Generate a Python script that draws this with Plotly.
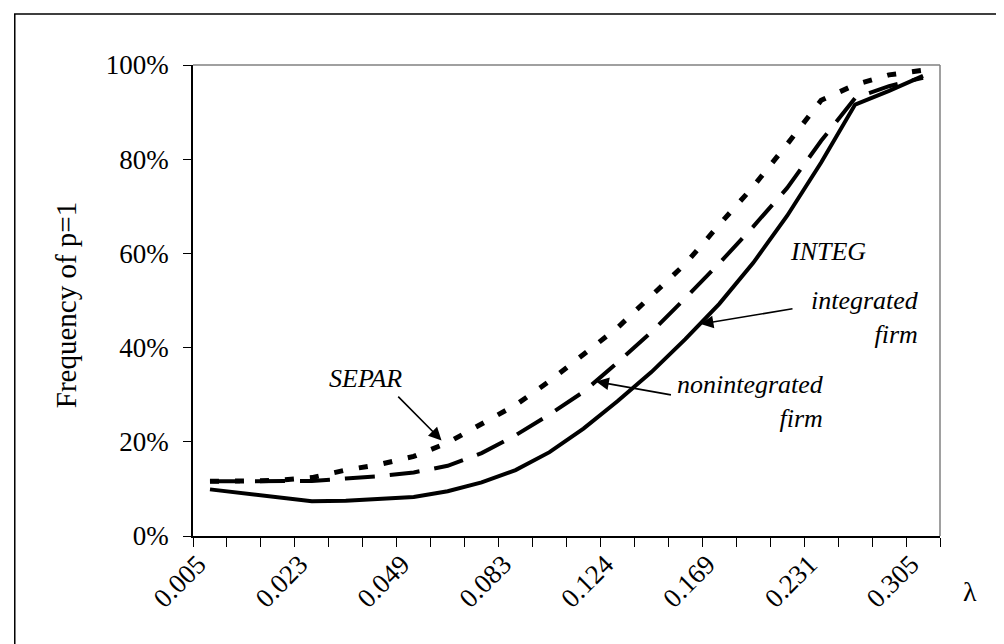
import plotly.graph_objects as go

# ---------------- data ----------------
x_index = list(range(22))                      # 22 categories of lambda
tick_index = [0, 3, 6, 9, 12, 15, 18, 21]      # labelled categories
tick_labels = ["0.005", "0.023", "0.049", "0.083", "0.124", "0.169", "0.231", "0.305"]

integ = [9.9, 9.0, 8.2, 7.4, 7.5, 7.8, 8.3, 9.5, 11.4, 14.0, 17.8, 22.8,
         28.6, 34.8, 41.8, 49.3, 58.0, 68.0, 79.3, 91.6, 94.5, 97.7]
nonint = [11.6, 11.6, 11.6, 11.7, 12.2, 12.7, 13.5, 14.9, 17.6, 21.4, 25.8, 30.6,
          36.8, 43.3, 50.5, 57.9, 65.7, 73.9, 83.9, 93.0, 95.5, 97.3]
separ = [11.6, 11.6, 11.8, 12.4, 14.0, 15.2, 16.9, 19.8, 23.8, 27.8, 32.9, 38.4,
         44.2, 51.0, 57.8, 66.1, 74.2, 83.2, 92.5, 95.8, 97.9, 98.9]

FONT = "Liberation Serif"

fig = go.Figure()
fig.add_trace(go.Scatter(x=x_index, y=separ, mode="lines",
                         line=dict(color="black", width=5, dash="9px,16px")))
fig.add_trace(go.Scatter(x=x_index, y=nonint, mode="lines",
                         line=dict(color="black", width=4, dash="30px,15px")))
fig.add_trace(go.Scatter(x=x_index, y=integ, mode="lines",
                         line=dict(color="black", width=4)))

fig.update_layout(
    width=1004, height=644,
    margin=dict(l=185, r=72, t=57, b=116),
    paper_bgcolor="white", plot_bgcolor="white",
    showlegend=False, hovermode=False,
    font=dict(family=FONT, color="black", size=27),
)

fig.update_xaxes(
    range=[-0.5, 21.5], showgrid=False, zeroline=False,
    showline=True, linecolor="black", linewidth=1.5,
    tickmode="array", tickvals=tick_index, ticktext=tick_labels,
    ticks="", tickangle=-45, tickfont=dict(family=FONT, size=27),
    ticklabelshift=-12,
    minor=dict(tickmode="linear", tick0=-0.5, dtick=1, ticks="outside",
               ticklen=9, tickcolor="black", tickwidth=1.2, showgrid=False),
)
fig.update_yaxes(
    range=[0, 100], showgrid=False, zeroline=False,
    showline=True, linecolor="black", linewidth=1.5,
    tickmode="linear", tick0=0, dtick=20, ticksuffix="%",
    ticks="outside", ticklen=8, tickcolor="black", tickwidth=1.2,
    tickfont=dict(family=FONT, size=27), ticklabelstandoff=9,
)

# plot-area top/right border (gray) and chart outer border (black)
fig.add_shape(type="line", xref="paper", yref="paper", x0=0, x1=1, y0=1, y1=1,
              line=dict(color="#808080", width=1.5))
fig.add_shape(type="line", xref="paper", yref="paper", x0=1, x1=1, y0=0, y1=1,
              line=dict(color="#808080", width=1.5))
fig.add_shape(type="rect", xref="paper", yref="paper",
              x0=-0.2386, x1=1.0879, y0=-0.2314, y1=1.1083,
              line=dict(color="black", width=1.5), layer="below")

# axis titles
fig.add_annotation(text="Frequency of p=1", xref="paper", yref="paper",
                   x=-0.17, y=0.49, textangle=-90, showarrow=False,
                   xanchor="center", yanchor="middle",
                   font=dict(family=FONT, size=29))
fig.add_annotation(text="λ", xref="paper", yref="paper",
                   x=1.0403, y=-0.117, showarrow=False,
                   xanchor="center", yanchor="middle",
                   font=dict(family=FONT, size=28))

# text labels
it = dict(family=FONT, size=26)
fig.add_annotation(text="<i>SEPAR</i>", x=4.58, y=33.5, showarrow=False, font=it)
fig.add_annotation(text="<i>INTEG</i>", x=18.2, y=60.5, showarrow=False, font=it)
fig.add_annotation(text="<i>integrated<br>firm</i>", x=20.95, y=46.3, showarrow=False,
                   xanchor="right", align="right", font=it)
fig.add_annotation(text="<i>nonintegrated<br>firm</i>", x=18.15, y=28.6, showarrow=False,
                   xanchor="right", align="right", font=it)

# arrows
arrow = dict(showarrow=True, text="", arrowhead=2, arrowsize=1.6, arrowwidth=1.6,
             arrowcolor="black", axref="x", ayref="y", standoff=0)
fig.add_annotation(x=6.82, y=20.3, ax=5.5, ay=29.9, **arrow)
fig.add_annotation(x=14.45, y=45.0, ax=17.2, ay=48.3, **arrow)
fig.add_annotation(x=11.37, y=32.8, ax=13.62, ay=29.9, **arrow)

fig.write_html("out.html")
